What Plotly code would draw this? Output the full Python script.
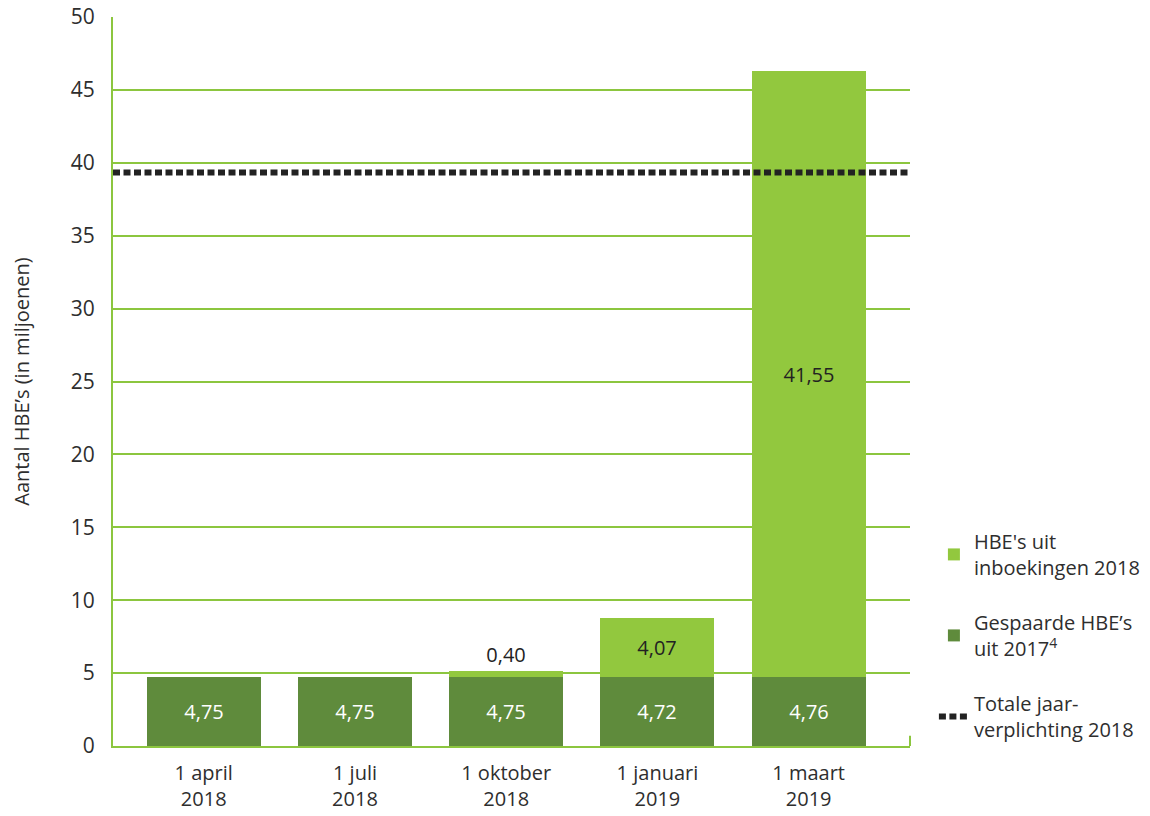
import plotly.graph_objects as go

categories = ["1 april<br>2018", "1 juli<br>2018", "1 oktober<br>2018", "1 januari<br>2019", "1 maart<br>2019"]
saved_2017 = [4.75, 4.75, 4.75, 4.72, 4.76]
booked_2018 = [None, None, 0.40, 4.07, 41.55]
total_obligation = 39.34
y_ticks = [0, 5, 10, 15, 20, 25, 30, 35, 40, 45, 50]

LIGHT = "#92c83e"
DARK = "#5f8b3c"
GRID = "#8cc63f"
FONT = "Open Sans"
TXT = "#2e2e2e"


def fmt(v):
    return "" if v is None else f"{v:.2f}".replace(".", ",")


xpos = list(range(len(categories)))

fig = go.Figure()
fig.add_trace(go.Bar(
    x=xpos, y=saved_2017, name="Gespaarde HBE’s<br>uit 2017<sup>4</sup>",
    marker=dict(color=DARK, line=dict(width=0)), width=0.754,
    text=[fmt(v) for v in saved_2017], textposition="inside", insidetextanchor="middle",
    textfont=dict(color="white", size=20, family=FONT), textangle=0,
    legendgroup="b", legendrank=2, hoverinfo="skip",
))
fig.add_trace(go.Bar(
    x=xpos, y=booked_2018, name="HBE's uit<br>inboekingen 2018",
    marker=dict(color=LIGHT, line=dict(width=0)), width=0.754,
    text=[fmt(v) for v in booked_2018],
    textposition=["none", "none", "outside", "inside", "inside"],
    insidetextanchor="middle",
    textfont=dict(color="#222222", size=20, family=FONT), textangle=0,
    outsidetextfont=dict(color="#222222", size=20, family=FONT),
    legendgroup="a", legendrank=1, hoverinfo="skip", cliponaxis=False,
))
fig.add_shape(
    type="line", xref="paper", x0=0, x1=1, yref="y", y0=total_obligation, y1=total_obligation,
    line=dict(color="#222222", width=6, dash="7px,3.5px"),
    showlegend=True, name="Totale jaar-<br>verplichting 2018", legendgroup="c", legendrank=3,
)
# small closing tick at the right end of the x axis
fig.add_shape(
    type="line", xref="paper", x0=1, x1=1, yref="paper", y0=0, y1=0.014,
    line=dict(color=GRID, width=2), showlegend=False,
)

fig.update_layout(
    width=1142, height=808,
    margin=dict(l=105, r=240, t=9, b=70, autoexpand=False),
    plot_bgcolor="white", paper_bgcolor="white",
    barmode="stack", bargap=0,
    font=dict(family=FONT, size=20, color=TXT),
    showlegend=True,
    legend=dict(
        x=1.03, xanchor="left", y=-0.004, yanchor="bottom",
        traceorder="grouped", tracegroupgap=26,
        font=dict(size=20, family=FONT, color=TXT),
        bgcolor="rgba(0,0,0,0)",
    ),
    xaxis=dict(
        range=[-0.6, 4.67], tickvals=xpos, ticktext=categories,
        showgrid=False, zeroline=False, showline=True, linecolor=GRID, linewidth=2,
        ticks="", tickfont=dict(size=20, family=FONT, color=TXT), ticklabelstandoff=8,
    ),
    yaxis=dict(
        range=[0, 50], tickvals=y_ticks, ticklabeloverflow="allow",
        showgrid=True, gridcolor=GRID, gridwidth=1.5,
        zeroline=False, showline=True, linecolor=GRID, linewidth=2,
        ticks="", tickfont=dict(size=21, family=FONT, color=TXT), ticklabelstandoff=12,
        title=dict(text="Aantal HBE’s (in miljoenen)", font=dict(size=20, family=FONT, color=TXT), standoff=36),
    ),
)

fig.write_html("out.html")
